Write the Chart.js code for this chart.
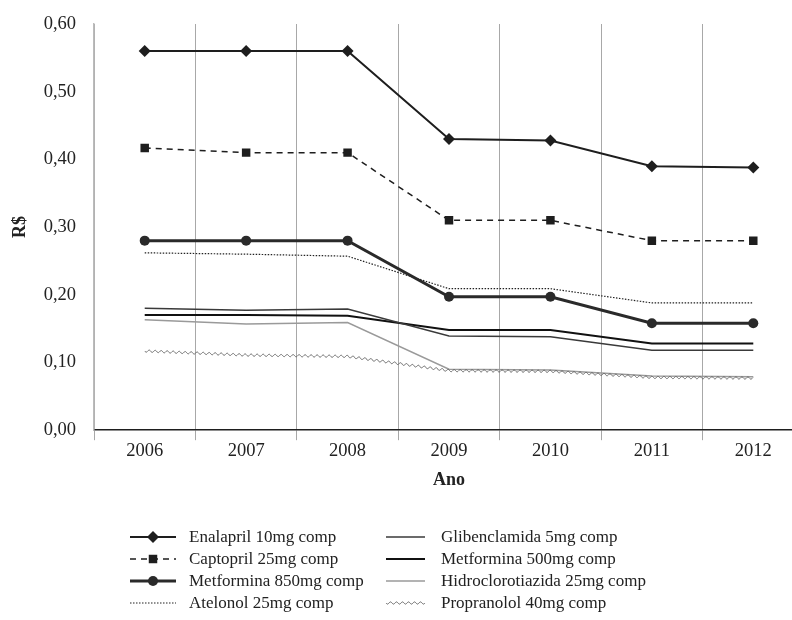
<!DOCTYPE html>
<html>
<head>
<meta charset="utf-8">
<script src="https://cdn.jsdelivr.net/npm/chart.js@4/dist/chart.umd.min.js"></script>
<style>
  html, body { margin: 0; padding: 0; background: #fff; overflow: hidden; }
  #wrap { width: 812px; height: 620px; }
</style>
</head>
<body>
<div id="wrap"><canvas id="price-chart" width="812" height="620"></canvas></div>
<script>
var years = ["2006", "2007", "2008", "2009", "2010", "2011", "2012"];
var enalapril = [0.56, 0.56, 0.56, 0.43, 0.428, 0.39, 0.388];
var captopril = [0.417, 0.41, 0.41, 0.31, 0.31, 0.28, 0.28];
var metformina850 = [0.28, 0.28, 0.28, 0.197, 0.197, 0.158, 0.158];
var atelonol = [0.262, 0.26, 0.257, 0.209, 0.209, 0.188, 0.188];
var glibenclamida = [0.18, 0.177, 0.179, 0.139, 0.138, 0.118, 0.118];
var metformina500 = [0.17, 0.17, 0.169, 0.148, 0.148, 0.128, 0.128];
var hidroclorotiazida = [0.163, 0.157, 0.159, 0.09, 0.089, 0.08, 0.079];
var propranolol = [0.117, 0.111, 0.109, 0.088, 0.087, 0.078, 0.077];

var serif = "'Liberation Serif', 'DejaVu Serif', serif";

function line(label, data, color, width, dash, style, radius) {
    return {
        label: label,
        data: data,
        fill: false,
        tension: 0,
        borderColor: color,
        backgroundColor: color,
        borderWidth: width,
        borderDash: dash,
        pointStyle: style || "circle",
        pointRadius: style ? radius : 0,
        pointBorderWidth: 0,
        pointHoverRadius: style ? radius : 0,
    };
}

var propData = line("Propranolol 40mg comp", propranolol, "rgba(0,0,0,0)", 0, [], null, 0);
propData.wavy = true;
propData.wavyColor = "#666";

var datasets = [
    line("Enalapril 10mg comp", enalapril, "#1e1e1e", 2, [], "rectRot", 6),
    line("Captopril 25mg comp", captopril, "#1e1e1e", 1.5, [6, 5], "rect", 6),
    line("Metformina 850mg comp", metformina850, "#2a2a2a", 3, [], "circle", 5),
    line("Atelonol 25mg comp", atelonol, "#222", 1.2, [1.5, 1.5], null, 0),
    line("Glibenclamida 5mg comp", glibenclamida, "#3a3a3a", 1.5, [], null, 0),
    line("Metformina 500mg comp", metformina500, "#111", 2, [], null, 0),
    line("Hidroclorotiazida 25mg comp", hidroclorotiazida, "#9a9a9a", 1.5, [], null, 0),
    propData,
];

// wavy stroke along a path of points
function wavyPath(ctx, pts, amp, wave) {
    var s = 0;
    ctx.beginPath();
    ctx.moveTo(pts[0].x, pts[0].y);
    for (var k = 0; k < pts.length - 1; k++) {
        var a = pts[k], b = pts[k + 1];
        var dx = b.x - a.x, dy = b.y - a.y;
        var len = Math.hypot(dx, dy);
        var nx = -dy / len, ny = dx / len;
        for (var t = 0; t <= len; t += 0.5) {
            var w = amp * Math.sin(2 * Math.PI * (s + t) / wave);
            ctx.lineTo(a.x + dx * t / len + nx * w, a.y + dy * t / len + ny * w);
        }
        s += len;
    }
    ctx.stroke();
}

var wavyLine = {
    id: "wavyLine",
    afterDatasetsDraw: function (chart) {
        var ctx = chart.ctx;
        chart.data.datasets.forEach(function (ds, i) {
            if (!ds.wavy) return;
            var pts = chart.getDatasetMeta(i).data.map(function (p) { return { x: p.x, y: p.y }; });
            ctx.save();
            ctx.strokeStyle = ds.wavyColor;
            ctx.lineWidth = 1;
            wavyPath(ctx, pts, 1.1, 6);
            ctx.restore();
        });
    },
};

// Excel-style legend in two columns
var sideLegend = {
    id: "sideLegend",
    afterDraw: function (chart) {
        var ctx = chart.ctx;
        var cols = [{ x0: 130, x1: 176, tx: 189 }, { x0: 386, x1: 425, tx: 441 }];
        var rows = [537, 559, 581, 603];
        chart.data.datasets.forEach(function (ds, i) {
            var c = cols[Math.floor(i / 4)];
            var y = rows[i % 4];
            ctx.save();
            if (ds.wavy) {
                ctx.strokeStyle = ds.wavyColor;
                ctx.lineWidth = 1;
                wavyPath(ctx, [{ x: c.x0, y: y }, { x: c.x1, y: y }], 1.1, 6);
            } else {
                ctx.strokeStyle = ds.borderColor;
                ctx.lineWidth = ds.borderWidth;
                ctx.setLineDash(ds.borderDash);
                ctx.beginPath();
                ctx.moveTo(c.x0, y);
                ctx.lineTo(c.x1, y);
                ctx.stroke();
                ctx.setLineDash([]);
                if (ds.pointRadius > 0) {
                    ctx.fillStyle = ds.backgroundColor;
                    Chart.helpers.drawPoint(ctx, {
                        pointStyle: ds.pointStyle,
                        radius: ds.pointRadius,
                        rotation: 0,
                        borderWidth: 0,
                    }, (c.x0 + c.x1) / 2, y);
                }
            }
            ctx.fillStyle = "#222";
            ctx.font = "17px " + serif;
            ctx.textBaseline = "middle";
            ctx.textAlign = "left";
            ctx.fillText(ds.label, c.tx, y + 1);
            ctx.restore();
        });
    },
};

var priceChart = new Chart(document.getElementById("price-chart"), {
    type: "line",
    data: { labels: years, datasets: datasets },
    plugins: [wavyLine, sideLegend],
    options: {
        responsive: false,
        animation: false,
        layout: { padding: { left: 10, right: 8, top: 24, bottom: 129 } },
        plugins: {
            legend: { display: false },
            tooltip: { enabled: false },
        },
        scales: {
            x: {
                offset: true,
                grid: {
                    offset: true,
                    color: "#a8a8a8",
                    lineWidth: 1,
                    drawTicks: true,
                    tickLength: 10,
                },
                border: { color: "#1e1e1e", width: 1.5 },
                ticks: {
                    color: "#222",
                    padding: 0,
                    font: { size: 18.5, family: serif },
                },
                title: {
                    display: true,
                    text: "Ano",
                    color: "#222",
                    padding: { top: 7, bottom: 0 },
                    font: { size: 18, weight: "bold", family: serif },
                },
            },
            y: {
                min: 0,
                max: 0.6,
                grid: { display: false },
                border: { display: true, color: "#bbb", width: 1.5 },
                afterFit: function (scale) { scale.width = 84; },
                ticks: {
                    stepSize: 0.1,
                    padding: 10,
                    color: "#222",
                    font: { size: 18.5, family: serif },
                    callback: function (v) { return v.toFixed(2).replace(".", ","); },
                },
                title: {
                    display: true,
                    text: "R$",
                    color: "#222",
                    padding: 0,
                    font: { size: 18, weight: "bold", family: serif },
                },
            },
        },
    },
});
</script>
</body>
</html>
